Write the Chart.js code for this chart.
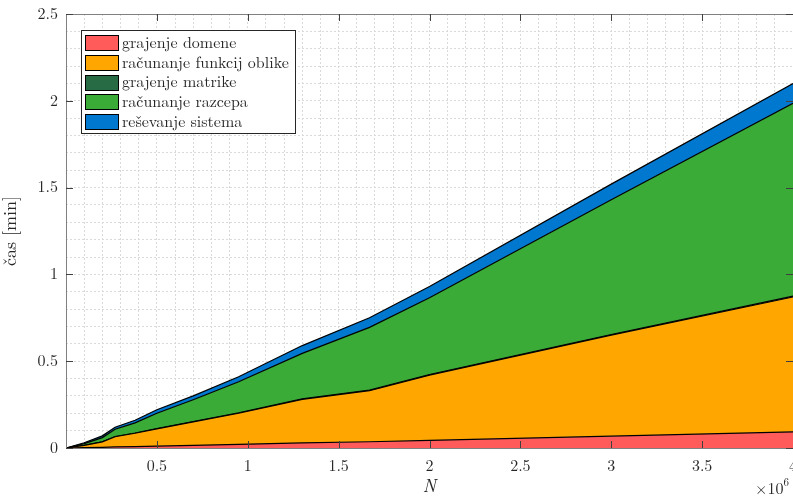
<!DOCTYPE html>
<html>
<head>
<meta charset="utf-8">
<script src="https://cdn.jsdelivr.net/npm/chart.js@4.4.1/dist/chart.umd.min.js"></script>
<style>
  html, body { margin: 0; background: #fff; }
  canvas { display: block; }
</style>
</head>
<body>
<canvas id="c" width="793" height="497"></canvas>
<script>
// ── Data ──────────────────────────────────────────────────────────────────────
// N on the x axis; per-stage times in minutes, stacked
const N               = [0, 0.1e6, 0.2e6, 0.27e6, 0.38e6, 0.5e6, 0.7e6, 0.95e6, 1.3e6, 1.67e6, 2.0e6, 3.0e6, 4.0e6];
const grajenjeDomene  = [0, .002, .004, .006, .008, .011, .015, .021, .029, .036, .044, .068, .093];
const funkcijeOblike  = [0, .013, .031, .059, .077, .099, .135, .179, .251, .294, .376, .582, .777];
const grajenjeMatrike = [0, .001, .001, .001, .001, .002, .002, .002, .003, .003, .003, .004, .005];
const razcep          = [0, .009, .024, .042, .059, .088, .126, .180, .262, .362, .442, .776, 1.110];
const resevanje       = [0, .005, .010, .012, .015, .020, .022, .028, .045, .055, .065, .090, .115];

const seriesLabels = ["grajenje domene", "računanje funkcij oblike", "grajenje matrike", "računanje razcepa", "reševanje sistema"];
const seriesColors = ["#ff5b5b", "#ffa600", "#276b45", "#3aab36", "#0078cf"];

const xMajor = [0.5e6, 1e6, 1.5e6, 2e6, 2.5e6, 3e6, 3.5e6, 4e6];
const yMajor = [0, 0.5, 1, 1.5, 2, 2.5];

// ── Style ─────────────────────────────────────────────────────────────────────
const SERIF = "'Latin Modern Roman', 'Liberation Serif', serif";
const TEXT  = "#262626";
const GRID  = "rgba(214,214,214,0.9)";
const isMajor = (v, list) => list.some(m => Math.abs(m - v) < 1e-6 * Math.max(1, Math.abs(m)));

// ── MATLAB-ish axes decorations: box, inward ticks, legend, ×10^6 ────────────
const matlabAxes = {
  id: "matlabAxes",
  afterDraw(chart) {
    const { ctx, chartArea: a, scales: { x, y } } = chart;
    ctx.save();

    // box
    ctx.strokeStyle = "#808080";
    ctx.lineWidth = 1;
    ctx.strokeRect(Math.round(a.left) + 0.5, Math.round(a.top) + 0.5,
                   Math.round(a.right - a.left), Math.round(a.bottom - a.top));

    // inward ticks
    const T = 7;
    ctx.strokeStyle = "#404040";
    ctx.beginPath();
    xMajor.forEach(v => {
      const px = Math.round(x.getPixelForValue(v)) + 0.5;
      ctx.moveTo(px, a.bottom); ctx.lineTo(px, a.bottom - T);
      ctx.moveTo(px, a.top);    ctx.lineTo(px, a.top + T);
    });
    yMajor.forEach(v => {
      const py = Math.round(y.getPixelForValue(v)) + 0.5;
      ctx.moveTo(a.left, py);  ctx.lineTo(a.left + T, py);
      ctx.moveTo(a.right, py); ctx.lineTo(a.right - T, py);
    });
    ctx.stroke();

    // legend
    const L = { x: 81, y: 30, w: 214, h: 103 };
    ctx.fillStyle = "#fff";
    ctx.fillRect(L.x, L.y, L.w, L.h);
    ctx.strokeStyle = "#262626";
    ctx.strokeRect(L.x + 0.5, L.y + 0.5, L.w, L.h);
    ctx.font = "16px " + SERIF;
    ctx.textBaseline = "middle";
    chart.data.datasets.forEach((ds, i) => {
      const cy = 42 + i * 19.8;
      ctx.fillStyle = ds.backgroundColor;
      ctx.fillRect(85, Math.round(cy - 7), 33, 15);
      ctx.strokeStyle = "#000";
      ctx.strokeRect(85.5, Math.round(cy - 7) + 0.5, 33, 15);
      ctx.fillStyle = TEXT;
      ctx.fillText(ds.label, 122, cy + 1);
    });

    // exponent label
    ctx.fillStyle = TEXT;
    ctx.textBaseline = "alphabetic";
    ctx.font = "16px " + SERIF;
    ctx.fillText("×10", 755, 494);
    const w = ctx.measureText("×10").width;
    ctx.font = "11px " + SERIF;
    ctx.fillText("6", 755 + w, 486);

    ctx.restore();
  },
};

// ── Chart ─────────────────────────────────────────────────────────────────────
const stages = [grajenjeDomene, funkcijeOblike, grajenjeMatrike, razcep, resevanje];

new Chart(document.getElementById("c").getContext("2d"), {
  type: "line",
  data: {
    datasets: stages.map((vals, i) => ({
      label:           seriesLabels[i],
      data:            N.map((n, k) => ({ x: n, y: vals[k] })),
      backgroundColor: seriesColors[i],
      borderColor:     "#000",
      borderWidth:     1.2,
      pointRadius:     0,
      tension:         0,
      fill:            i === 0 ? "origin" : "-1",
    })),
  },
  options: {
    responsive: false,
    animation:  false,
    layout: { padding: { top: 14, right: 0, left: 0, bottom: 0 } },
    plugins: { legend: { display: false }, tooltip: { enabled: false } },
    scales: {
      x: {
        type: "linear",
        min: 0, max: 4e6,
        z: 1,
        grid:   { color: GRID, lineWidth: 1, drawTicks: false },
        border: { display: false, dash: [2, 2] },
        ticks: {
          stepSize: 1e5, autoSkip: false, maxRotation: 0, padding: 9,
          color: TEXT, font: { family: SERIF, size: 16 },
          callback: v => (v > 0 && isMajor(v, xMajor)) ? String(v / 1e6) : "",
        },
        title: {
          display: true, text: "N", color: TEXT,
          font: { family: SERIF, size: 18, style: "italic" },
          padding: { top: 0, bottom: 0 },
        },
        afterFit: s => { s.height = 49; s.paddingLeft = 0; s.paddingRight = 0; },
      },
      y: {
        min: 0, max: 2.5,
        stacked: true,
        z: 1,
        grid:   { color: GRID, lineWidth: 1, drawTicks: false },
        border: { display: false, dash: [2, 2] },
        ticks: {
          stepSize: 0.1, autoSkip: false, padding: 8,
          color: TEXT, font: { family: SERIF, size: 16 },
          callback: v => isMajor(v, yMajor) ? String(Math.round(v * 10) / 10) : "",
        },
        title: {
          display: true, text: "čas [min]", color: TEXT,
          font: { family: SERIF, size: 18 },
          padding: { top: 0, bottom: 4 },
        },
        afterFit: s => { s.width = 66; s.paddingTop = 0; s.paddingBottom = 0; },
      },
    },
  },
  plugins: [matlabAxes],
});
</script>
</body>
</html>
